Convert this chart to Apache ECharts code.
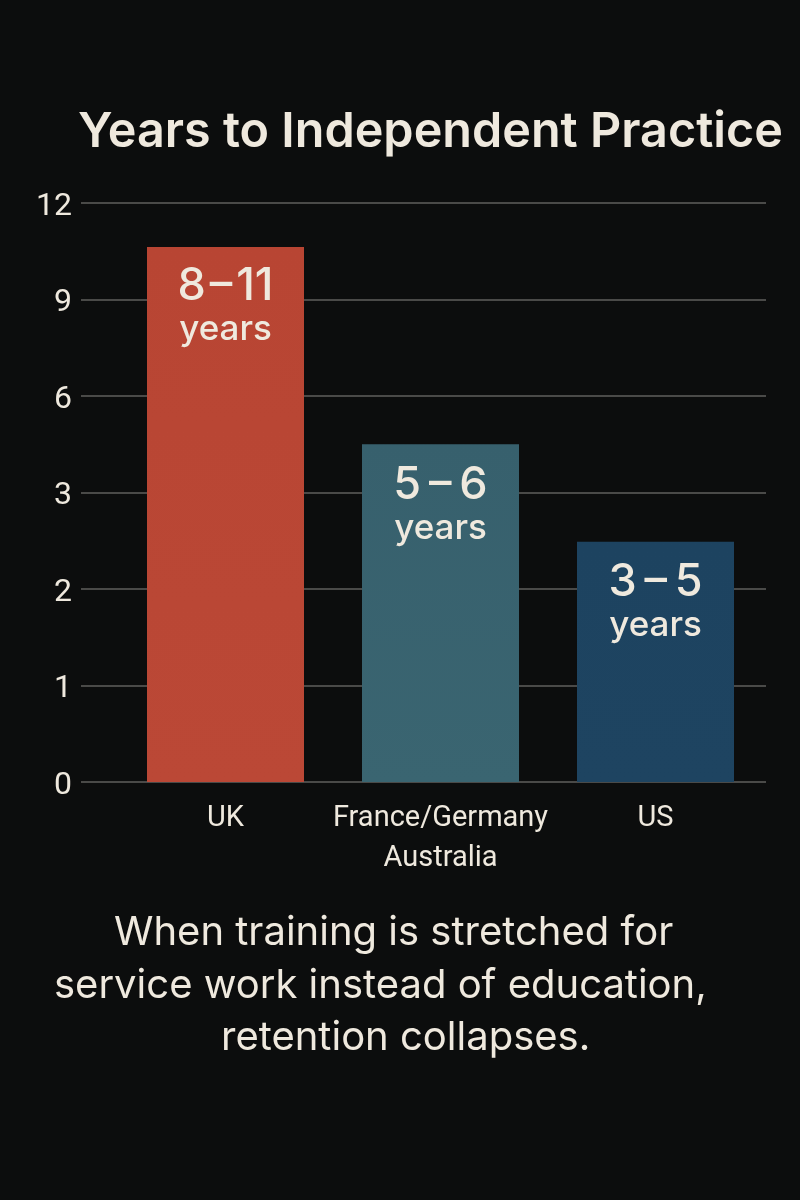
<!DOCTYPE html>
<html>
<head>
<meta charset="utf-8">
<style>
    html, body { margin: 0; padding: 0; background: #0c0d0d; }
    #chart { width: 800px; height: 1200px; }
</style>
<script src="https://cdn.jsdelivr.net/npm/echarts@6/dist/echarts.min.js"></script>
</head>
<body>
<div id="chart"></div>
<script>
var categories = ['UK', 'France/Germany\nAustralia', 'US'];
var barValues = [10.63, 4.5, 2.49];
var barLabels = ['8\u200a–\u200a11', '5\u2009–\u20096', '3\u2009–\u20095'];
var tickLabels = [0, 1, 2, 3, 6, 9, 12];
var barColors = [
    ['#b84533', '#bb4836'],
    ['#37606d', '#3a6571'],
    ['#1d4360', '#1e4461']
];
var labelGaps = [15, 17, 17];
var noteLines = [
    'When training is stretched for',
    'service work instead of education,',
    'retention collapses.'
];

var textColor = '#efe9de';

// the ticks are evenly spaced but their values are not, so map a value to its tick slot
function toSlot(v) {
    for (var i = 0; i < tickLabels.length - 1; i++) {
        if (v <= tickLabels[i + 1]) {
            return i + (v - tickLabels[i]) / (tickLabels[i + 1] - tickLabels[i]);
        }
    }
    return tickLabels.length - 1;
}

var chart = echarts.init(document.getElementById('chart'));
chart.setOption({
    animation: false,
    backgroundColor: '#0c0d0d',
    textStyle: {fontFamily: 'Inter'},
    title: [
        {
            text: 'Years to Independent Practice',
            left: 73, top: 103,
            textStyle: {color: textColor, fontFamily: 'Inter', fontSize: 48.5, fontWeight: 600}
        },
        {
            text: noteLines[0],
            left: 109, top: 908,
            textStyle: {color: textColor, fontFamily: 'Inter', fontSize: 40, fontWeight: 400}
        },
        {
            text: noteLines[1],
            left: 49, top: 961,
            textStyle: {color: textColor, fontFamily: 'Inter', fontSize: 40, fontWeight: 400}
        },
        {
            text: noteLines[2],
            left: 216, top: 1013,
            textStyle: {color: textColor, fontFamily: 'Inter', fontSize: 40, fontWeight: 400}
        }
    ],
    grid: [
        // grid lines and tick labels run wider than the bars' band
        {left: 81, width: 685, top: 203, height: 579},
        {left: 118, width: 645, top: 203, height: 579}
    ],
    xAxis: [
        {gridIndex: 0, type: 'value', min: 0, max: 1, show: false},
        {
            gridIndex: 1,
            type: 'category',
            data: categories,
            axisLine: {show: false},
            axisTick: {show: false},
            axisLabel: {
                interval: 0,
                margin: 17,
                color: textColor,
                fontFamily: 'Roboto',
                fontSize: 29,
                lineHeight: 40,
                verticalAlign: 'top'
            }
        }
    ],
    yAxis: [
        {
            gridIndex: 0,
            type: 'value',
            min: 0,
            max: tickLabels.length - 1,
            interval: 1,
            axisLine: {show: false},
            axisTick: {show: false},
            axisLabel: {
                margin: 9,
                formatter: function (v) {
                    return '{tick|' + tickLabels[v] + '}';
                },
                rich: {
                    // sits a few pixels below the grid line, as in the picture
                    tick: {color: textColor, fontFamily: 'Roboto', fontSize: 32, padding: [7, 0, 0, 0]}
                }
            },
            splitLine: {lineStyle: {color: '#4a4a48', width: 2}}
        },
        {gridIndex: 1, type: 'value', min: 0, max: tickLabels.length - 1, show: false}
    ],
    series: [
        {
            type: 'bar',
            xAxisIndex: 1,
            yAxisIndex: 1,
            barWidth: 157,
            data: barValues.map(function (v, i) {
                return {
                    value: toSlot(v),
                    itemStyle: {
                        color: new echarts.graphic.LinearGradient(0, 0, 0, 1, [
                            {offset: 0, color: barColors[i][0]},
                            {offset: 1, color: barColors[i][1]}
                        ])
                    },
                    label: {
                        distance: labelGaps[i],
                        formatter: '{big|' + barLabels[i] + '}\n{small|years}'
                    }
                };
            }),
            label: {
                show: true,
                position: 'insideTop',
                rich: {
                    big: {color: textColor, fontFamily: 'Inter', fontSize: 45, fontWeight: 500, lineHeight: 48},
                    small: {color: textColor, fontFamily: 'Inter', fontSize: 35, fontWeight: 500, lineHeight: 38}
                }
            }
        }
    ]
});
</script>
</body>
</html>
